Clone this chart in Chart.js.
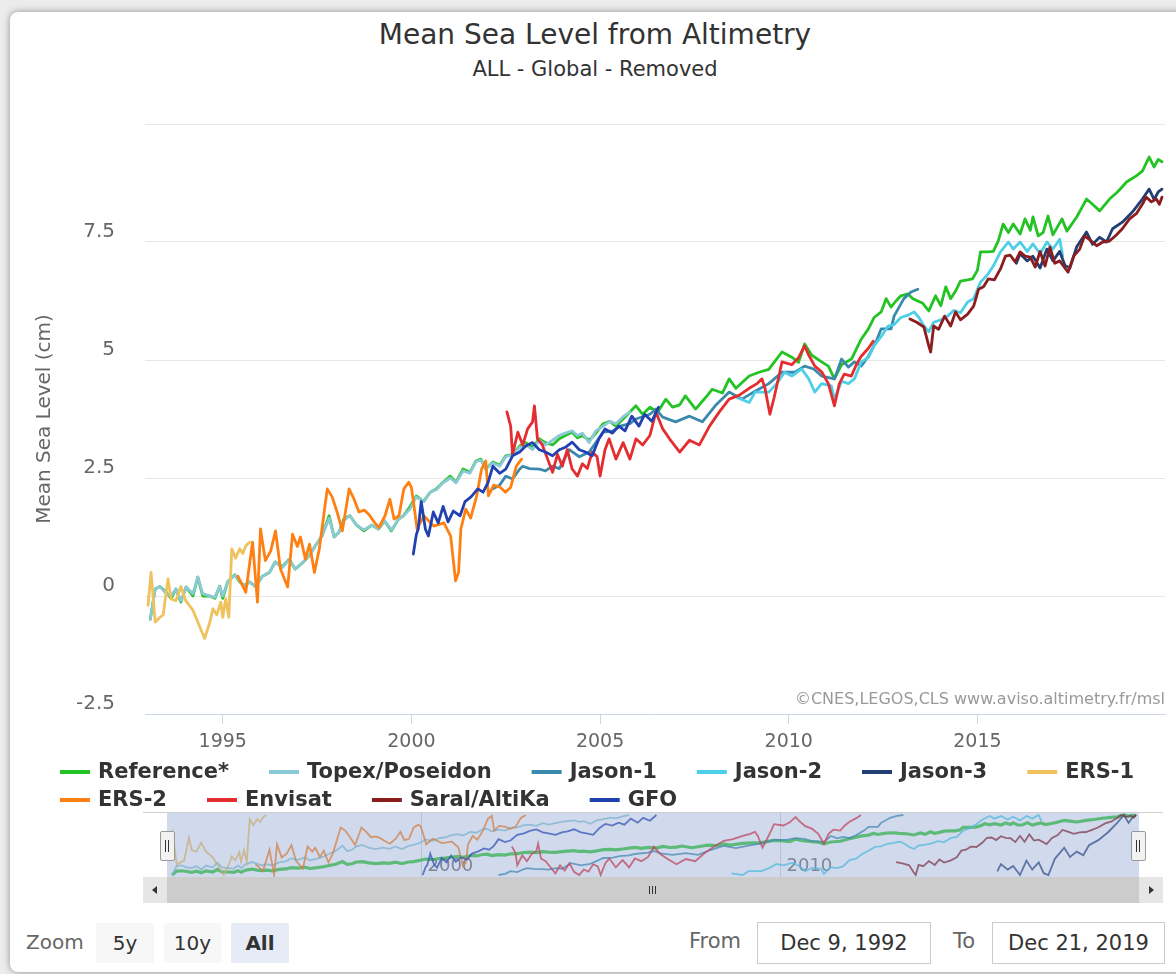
<!DOCTYPE html>
<html><head><meta charset="utf-8">
<script src="https://cdn.jsdelivr.net/npm/chart.js@4.4.1/dist/chart.umd.min.js"></script>
<style>
html,body{margin:0;padding:0;}
body{width:1176px;height:974px;background:#ececec;overflow:hidden;position:relative;font-family:"DejaVu Sans",sans-serif;}
#card{position:absolute;left:10px;top:12px;width:1220px;height:960px;background:#fff;border-radius:8px;box-shadow:0 0 7px rgba(0,0,0,0.4);}
#title{position:absolute;left:0;width:1190px;top:18px;text-align:center;font-size:28px;color:#333;}
#subtitle{position:absolute;left:0;width:1190px;top:57px;text-align:center;font-size:21px;color:#333;}
canvas{position:absolute;}
#mainC{left:0;top:0;}
#navC{left:167px;top:813px;}
.abs{position:absolute;}
#navTop{left:143px;top:812px;width:1020px;height:1px;background:#cfcfcf;}
.handle{top:831px;width:13px;height:28px;background:#f2f2f2;border:1px solid #999;border-radius:2px;}
.handle i{position:absolute;top:8px;width:1px;height:12px;background:#333;}
#scroll{left:143px;top:877px;width:1020px;height:26px;background:#f2f2f2;}
#bar{left:24px;top:0;width:972px;height:26px;background:#cccccc;}
.sbtn{top:0;width:24px;height:26px;background:#e6e6e6;}
.grip{top:9px;width:1px;height:8px;background:#333;}
.lbl{font-size:20px;color:#666;}
.btn{top:923px;height:40px;line-height:40px;text-align:center;font-size:20px;color:#333;background:#f7f7f7;border-radius:2px;}
.inp{top:922px;height:40px;line-height:40px;text-align:center;font-size:21px;color:#333;border:1px solid #ccc;background:#fff;}
</style></head>
<body>
<div id="card"></div>
<div id="title">Mean Sea Level from Altimetry</div>
<div id="subtitle">ALL - Global - Removed</div>
<canvas id="mainC" width="1176" height="812"></canvas>
<div id="navTop" class="abs"></div>
<canvas id="navC" width="972" height="64"></canvas>
<div class="abs handle" style="left:160px;"><i style="left:4px"></i><i style="left:7px"></i></div>
<div class="abs handle" style="left:1131px;"><i style="left:4px"></i><i style="left:7px"></i></div>
<div id="scroll" class="abs">
  <div id="bar" class="abs">
    <div class="abs grip" style="left:482px"></div><div class="abs grip" style="left:485px"></div><div class="abs grip" style="left:488px"></div>
  </div>
  <div class="abs sbtn" style="left:0"><svg width="24" height="26"><path d="M14 9 L9 13 L14 17 Z" fill="#333"/></svg></div>
  <div class="abs sbtn" style="left:996px"><svg width="24" height="26"><path d="M10 9 L15 13 L10 17 Z" fill="#333"/></svg></div>
</div>
<div class="abs lbl" style="left:26px;top:930px;">Zoom</div>
<div class="abs btn" style="left:96px;width:58px;">5y</div>
<div class="abs btn" style="left:164px;width:57px;">10y</div>
<div class="abs btn" style="left:231px;width:58px;background:#e6ebf5;font-weight:bold;">All</div>
<div class="abs lbl" style="left:689px;top:929px;font-size:21px;">From</div>
<div class="abs inp" style="left:757px;width:172px;">Dec 9, 1992</div>
<div class="abs lbl" style="left:953px;top:929px;font-size:21px;">To</div>
<div class="abs inp" style="left:992px;width:171px;">Dec 21, 2019</div>
<script>
// ---------------- data (decimal year, cm) ----------------
const seriesNames = ['Reference*','Topex/Poseidon','Jason-1','Jason-2','Jason-3','ERS-1','ERS-2','Envisat','Saral/AltiKa','GFO'];
const seriesColors = ['#22c322','#8ac9d5','#3b8aae','#4dcfe8','#223e72','#efc25d','#ff8012','#e42d30','#8c1d1f','#2141b0'];

const reference = [[1993.08,-0.49],[1993.21,0.15],[1993.34,0.2],[1993.50,0.08],[1993.63,-0.05],[1993.76,0.15],[1993.89,-0.13],[1994.03,0.19],[1994.21,0.0],[1994.34,0.4],[1994.47,0.0],[1994.66,0.0],[1994.79,-0.05],[1994.92,0.21],[1995.00,-0.05],[1995.13,0.3],[1995.32,0.45],[1995.45,0.3],[1995.58,0.22],[1995.71,0.3],[1995.87,0.2],[1996.05,0.42],[1996.24,0.5],[1996.39,0.72],[1996.58,0.62],[1996.76,0.78],[1996.92,0.57],[1997.11,0.7],[1997.29,0.85],[1997.45,1.06],[1997.63,1.27],[1997.82,1.7],[1997.95,1.25],[1998.08,1.35],[1998.21,1.63],[1998.37,1.7],[1998.55,1.5],[1998.74,1.38],[1998.95,1.5],[1999.13,1.42],[1999.29,1.59],[1999.47,1.38],[1999.66,1.63],[1999.79,1.7],[1999.97,1.9],[2000.13,2.12],[2000.32,2.0],[2000.50,2.2],[2000.66,2.27],[2000.84,2.41],[2001.03,2.54],[2001.18,2.41],[2001.37,2.69],[2001.55,2.62],[2001.71,2.86],[2001.84,2.9],[2001.97,2.69],[2002.16,2.84],[2002.34,2.77],[2002.50,2.97],[2002.68,3.0],[2002.87,3.18],[2003.03,3.25],[2003.21,3.15],[2003.39,3.33],[2003.55,3.25],[2003.74,3.2],[2003.92,3.33],[2004.08,3.4],[2004.26,3.47],[2004.40,3.35],[2004.53,3.4],[2004.71,3.3],[2004.89,3.45],[2005.08,3.65],[2005.26,3.7],[2005.42,3.6],[2005.61,3.75],[2005.79,3.9],[2005.95,4.03],[2006.13,3.85],[2006.32,4.0],[2006.53,3.9],[2006.74,4.17],[2006.92,4.0],[2007.11,4.05],[2007.26,4.24],[2007.53,3.96],[2007.79,4.2],[2007.97,4.38],[2008.24,4.3],[2008.42,4.6],[2008.60,4.4],[2008.95,4.66],[2009.21,4.74],[2009.47,4.8],[2009.62,4.96],[2009.82,5.17],[2010.08,5.06],[2010.26,4.95],[2010.42,5.34],[2010.61,5.1],[2010.87,4.96],[2011.05,4.87],[2011.21,4.6],[2011.40,4.9],[2011.66,5.02],[2011.92,5.44],[2012.11,5.66],[2012.26,5.9],[2012.45,6.02],[2012.58,6.3],[2012.71,6.12],[2012.84,6.25],[2012.97,6.36],[2013.16,6.4],[2013.29,6.3],[2013.42,6.25],[2013.55,6.2],[2013.71,6.04],[2013.89,6.36],[2014.03,6.15],[2014.16,6.55],[2014.29,6.3],[2014.42,6.46],[2014.55,6.67],[2014.74,6.7],[2014.87,6.72],[2015.00,6.9],[2015.08,7.29],[2015.26,7.29],[2015.42,7.3],[2015.55,7.52],[2015.68,7.88],[2015.82,7.7],[2015.95,7.88],[2016.13,7.67],[2016.26,7.99],[2016.40,7.75],[2016.47,8.03],[2016.61,7.63],[2016.74,7.7],[2016.87,8.05],[2017.00,7.65],[2017.24,7.99],[2017.37,7.73],[2017.63,8.03],[2017.89,8.41],[2018.05,8.3],[2018.24,8.16],[2018.50,8.41],[2018.71,8.56],[2018.95,8.77],[2019.21,8.9],[2019.37,9.0],[2019.55,9.3],[2019.68,9.09],[2019.79,9.25],[2019.89,9.2]];

const topexPoseidon = [[1993.08,-0.5],[1993.21,0.15],[1993.34,0.2],[1993.50,0.05],[1993.63,0.0],[1993.76,0.15],[1993.89,-0.1],[1994.03,0.19],[1994.21,0.05],[1994.34,0.4],[1994.47,0.05],[1994.66,0.0],[1994.79,-0.03],[1994.92,0.2],[1995.00,0.0],[1995.13,0.3],[1995.32,0.45],[1995.45,0.32],[1995.58,0.2],[1995.71,0.3],[1995.87,0.2],[1996.05,0.42],[1996.24,0.5],[1996.39,0.72],[1996.58,0.6],[1996.76,0.78],[1996.92,0.57],[1997.11,0.7],[1997.29,0.85],[1997.45,1.06],[1997.63,1.27],[1997.82,1.65],[1997.95,1.25],[1998.08,1.35],[1998.21,1.6],[1998.37,1.7],[1998.55,1.5],[1998.74,1.4],[1998.95,1.5],[1999.13,1.42],[1999.29,1.59],[1999.47,1.4],[1999.66,1.63],[1999.79,1.7],[1999.97,1.85],[2000.13,2.1],[2000.32,2.0],[2000.50,2.2],[2000.66,2.25],[2000.84,2.4],[2001.03,2.5],[2001.18,2.4],[2001.37,2.65],[2001.55,2.6],[2001.71,2.85],[2001.84,2.88],[2001.97,2.7],[2002.16,2.82],[2002.34,2.75],[2002.50,2.95],[2002.68,3.0],[2002.87,3.15],[2003.03,3.2],[2003.21,3.1],[2003.39,3.3],[2003.55,3.2],[2003.74,3.3],[2003.92,3.4],[2004.08,3.45],[2004.26,3.5],[2004.40,3.4],[2004.53,3.45],[2004.71,3.25],[2004.89,3.5],[2005.08,3.6],[2005.26,3.7],[2005.42,3.65],[2005.61,3.8],[2005.79,3.9]];

const jason1 = [[2002.16,2.27],[2002.34,2.35],[2002.50,2.54],[2002.68,2.48],[2002.87,2.69],[2002.95,2.75],[2003.13,2.7],[2003.39,2.69],[2003.55,2.65],[2003.74,2.75],[2003.92,2.7],[2004.18,3.1],[2004.45,2.95],[2004.71,3.05],[2005.08,3.47],[2005.34,3.5],[2005.53,3.6],[2005.79,3.65],[2005.95,3.75],[2006.32,3.85],[2006.48,3.96],[2006.66,3.79],[2007.00,3.69],[2007.37,3.81],[2007.71,3.69],[2008.05,4.03],[2008.42,4.32],[2008.76,4.17],[2009.11,4.34],[2009.47,4.5],[2009.82,4.74],[2010.16,4.74],[2010.42,4.87],[2010.66,4.81],[2010.87,4.66],[2011.21,4.6],[2011.40,5.02],[2011.58,4.85],[2011.74,4.96],[2011.92,4.87],[2012.11,5.08],[2012.32,5.4],[2012.45,5.66],[2012.71,5.66],[2012.79,5.93],[2013.05,6.3],[2013.24,6.44],[2013.42,6.5]];

const jason2 = [[2008.64,4.2],[2008.95,4.1],[2009.11,4.32],[2009.47,4.32],[2009.68,4.5],[2009.89,4.74],[2010.08,4.66],[2010.34,4.81],[2010.53,4.6],[2010.69,4.32],[2010.87,4.5],[2011.13,4.45],[2011.21,4.17],[2011.40,4.55],[2011.58,4.5],[2011.74,4.6],[2011.92,4.96],[2012.11,5.05],[2012.26,5.3],[2012.45,5.5],[2012.63,5.72],[2012.79,5.75],[2012.97,5.9],[2013.16,5.95],[2013.32,6.02],[2013.45,5.9],[2013.58,5.72],[2013.71,5.6],[2013.84,5.8],[2014.03,5.85],[2014.21,5.93],[2014.37,6.05],[2014.55,6.0],[2014.74,6.23],[2014.90,6.3],[2015.08,6.65],[2015.26,6.8],[2015.42,6.99],[2015.61,7.29],[2015.82,7.5],[2015.95,7.35],[2016.13,7.5],[2016.32,7.3],[2016.47,7.46],[2016.66,7.25],[2016.84,7.5],[2017.00,7.35],[2017.18,7.56],[2017.26,7.2]];

const jason3 = [[2016.03,7.05],[2016.13,7.25],[2016.32,7.1],[2016.47,7.2],[2016.66,6.95],[2016.84,7.35],[2017.00,7.1],[2017.18,7.3],[2017.32,7.0],[2017.45,6.95],[2017.63,7.4],[2017.89,7.71],[2018.05,7.45],[2018.24,7.6],[2018.42,7.5],[2018.58,7.78],[2018.84,7.92],[2019.11,8.14],[2019.37,8.41],[2019.55,8.62],[2019.68,8.4],[2019.79,8.56],[2019.89,8.62]];

const ers1 = [[1993.02,-0.2],[1993.10,0.5],[1993.21,-0.55],[1993.34,-0.45],[1993.42,-0.4],[1993.55,0.36],[1993.63,-0.06],[1993.76,-0.1],[1993.89,0.2],[1994.02,-0.1],[1994.21,-0.3],[1994.52,-0.9],[1994.66,-0.55],[1994.74,-0.27],[1994.84,-0.4],[1994.95,-0.13],[1995.00,-0.45],[1995.08,-0.06],[1995.16,-0.45],[1995.24,1.0],[1995.34,0.8],[1995.45,1.0],[1995.53,0.9],[1995.61,1.06],[1995.71,1.14]];

const ers2 = [[1995.40,0.42],[1995.61,0.08],[1995.79,1.14],[1995.92,-0.13],[1996.00,1.42],[1996.13,0.75],[1996.27,0.95],[1996.40,1.38],[1996.53,0.57],[1996.72,0.19],[1996.85,1.31],[1996.98,1.05],[1997.06,1.25],[1997.19,0.78],[1997.30,1.1],[1997.43,0.5],[1997.56,1.0],[1997.77,2.27],[1997.90,2.1],[1998.03,1.78],[1998.17,1.38],[1998.35,2.27],[1998.48,2.05],[1998.61,1.78],[1998.75,1.82],[1998.88,1.72],[1999.01,1.57],[1999.14,1.45],[1999.30,1.7],[1999.43,2.05],[1999.54,1.63],[1999.67,1.7],[1999.80,2.27],[1999.93,2.41],[2000.00,2.3],[2000.07,1.9],[2000.15,1.42],[2000.33,1.7],[2000.59,1.48],[2000.86,1.55],[2001.04,1.27],[2001.17,0.32],[2001.25,0.5],[2001.31,1.42],[2001.44,1.84],[2001.57,1.65],[2001.73,2.12],[2001.86,2.69],[2001.97,2.86],[2002.04,2.12],[2002.18,2.35],[2002.36,2.3],[2002.49,2.2],[2002.63,2.3],[2002.78,2.75],[2002.92,2.9]];

const envisat = [[2002.53,3.9],[2002.63,3.6],[2002.68,3.0],[2002.82,3.47],[2002.95,3.2],[2003.08,3.54],[2003.21,3.69],[2003.26,4.03],[2003.34,3.33],[2003.47,3.2],[2003.61,2.9],[2003.74,2.62],[2003.87,3.0],[2004.00,2.75],[2004.13,3.1],[2004.26,2.69],[2004.40,2.54],[2004.53,2.8],[2004.66,2.7],[2004.79,3.05],[2004.92,2.95],[2005.00,2.54],[2005.13,3.1],[2005.24,3.33],[2005.42,2.9],[2005.61,3.25],[2005.79,2.9],[2005.95,3.33],[2006.13,3.2],[2006.32,3.4],[2006.48,3.9],[2006.66,3.54],[2006.84,3.33],[2007.11,3.05],[2007.37,3.3],[2007.63,3.2],[2007.90,3.6],[2008.16,3.9],[2008.42,4.17],[2008.68,4.25],[2008.95,4.4],[2009.16,4.5],[2009.29,4.6],[2009.37,4.4],[2009.50,3.85],[2009.61,4.2],[2009.74,4.66],[2009.82,4.96],[2010.08,4.9],[2010.26,5.05],[2010.42,5.3],[2010.53,5.1],[2010.69,4.87],[2010.87,4.75],[2011.05,4.5],[2011.21,4.03],[2011.34,4.5],[2011.47,4.7],[2011.66,4.66],[2011.79,4.9],[2011.92,5.08],[2012.11,5.25],[2012.24,5.4]];

const saralAltiKa = [[2013.21,5.87],[2013.39,5.8],[2013.58,5.7],[2013.71,5.3],[2013.76,5.17],[2013.84,5.72],[2013.97,5.65],[2014.13,5.93],[2014.29,5.72],[2014.42,6.02],[2014.55,5.85],[2014.74,5.97],[2014.90,6.14],[2015.03,6.5],[2015.16,6.55],[2015.29,6.72],[2015.45,6.7],[2015.61,6.93],[2015.74,7.2],[2015.87,7.22],[2016.00,7.08],[2016.13,7.29],[2016.26,7.2],[2016.40,7.18],[2016.53,6.97],[2016.66,7.3],[2016.79,6.99],[2016.92,7.39],[2017.05,7.05],[2017.18,7.1],[2017.40,6.86],[2017.55,7.2],[2017.71,7.35],[2017.84,7.63],[2017.97,7.55],[2018.16,7.42],[2018.32,7.5],[2018.50,7.52],[2018.68,7.65],[2018.84,7.78],[2019.03,7.99],[2019.21,8.1],[2019.37,8.3],[2019.47,8.45],[2019.61,8.35],[2019.74,8.41],[2019.82,8.3],[2019.89,8.45]];

const gfo = [[2000.05,0.89],[2000.13,1.3],[2000.18,1.42],[2000.26,2.0],[2000.37,1.42],[2000.45,1.27],[2000.58,1.78],[2000.71,1.55],[2000.84,1.9],[2000.97,1.57],[2001.11,1.8],[2001.29,1.7],[2001.42,2.0],[2001.58,2.1],[2001.76,2.27],[2001.90,2.2],[2002.03,2.4],[2002.16,2.75],[2002.34,2.6],[2002.50,2.69],[2002.68,2.97],[2002.87,3.05],[2003.03,3.18],[2003.21,3.25],[2003.39,3.1],[2003.55,3.05],[2003.74,2.97],[2003.92,3.1],[2004.08,3.15],[2004.26,3.26],[2004.45,3.1],[2004.61,3.05],[2004.79,2.97],[2004.97,3.33],[2005.13,3.54],[2005.32,3.45],[2005.50,3.6],[2005.66,3.5],[2005.84,3.81],[2006.03,3.6],[2006.18,3.85],[2006.37,3.7],[2006.55,4.0]];

const seriesData = [reference, topexPoseidon, jason1, jason2, jason3, ers1, ers2, envisat, saralAltiKa, gfo];

const xTickYears = [1995, 2000, 2005, 2010, 2015];
const yTickValues = [-2.5, 0, 2.5, 5, 7.5, 10];
const navTickYears = [2000, 2010];
const rangeStart = 1992.94, rangeEnd = 2019.97;
const creditText = '©CNES,LEGOS,CLS www.aviso.altimetry.fr/msl';

// ---------------- main chart ----------------
const F = '"DejaVu Sans", sans-serif';
const toXY = arr => arr.map(p => ({x: p[0], y: p[1]}));

const hcLegend = {
  id: 'hcLegend',
  afterDraw(chart) {
    const ctx = chart.ctx;
    ctx.save();
    // credits
    ctx.font = '16px ' + F;
    ctx.fillStyle = '#999';
    ctx.textAlign = 'right';
    ctx.textBaseline = 'middle';
    ctx.fillText(creditText, chart.chartArea.right, chart.chartArea.bottom - 14);
    // legend
    ctx.font = 'bold 21px ' + F;
    ctx.textAlign = 'left';
    const symW = 30, gap = 8, dist = 40, startX = 60, maxX = 1160;
    let x = startX, row = 0;
    chart.data.datasets.forEach(ds => {
      const w = symW + gap + ctx.measureText(ds.label).width;
      if (x + w > maxX) { row++; x = startX; }
      const y = 772 + row * 28;
      ctx.fillStyle = ds.borderColor;
      ctx.fillRect(x, y - 2, symW, 4);
      ctx.fillStyle = '#333';
      ctx.fillText(ds.label, x + symW + gap, y + 1);
      x += w + dist;
    });
    ctx.restore();
  }
};

new Chart(document.getElementById('mainC'), {
  type: 'line',
  data: {
    datasets: seriesData.map((arr, i) => ({
      label: seriesNames[i],
      data: toXY(arr),
      borderColor: seriesColors[i],
      backgroundColor: seriesColors[i],
      borderWidth: 2.8,
      borderJoinStyle: 'round',
      borderCapStyle: 'round',
      pointRadius: 0,
      tension: 0,
      fill: false,
      order: seriesData.length - i
    }))
  },
  options: {
    responsive: false,
    animation: false,
    layout: {padding: {left: 0, right: 11, top: 124, bottom: 58}},
    plugins: {legend: {display: false}, tooltip: {enabled: false}},
    scales: {
      x: {
        type: 'linear', min: rangeStart, max: rangeEnd,
        afterBuildTicks: s => { s.ticks = xTickYears.map(v => ({value: v})); },
        afterFit: s => { s.height = 40; },
        grid: {drawOnChartArea: false, drawTicks: true, tickLength: 10, color: '#ccd6eb'},
        border: {display: true, color: '#ccd6eb', width: 1},
        ticks: {callback: v => String(v), font: {family: F, size: 19}, color: '#666', padding: 7, maxRotation: 0, autoSkip: false}
      },
      y: {
        type: 'linear', min: -2.5, max: 10,
        afterBuildTicks: s => { s.ticks = yTickValues.map(v => ({value: v})); },
        afterFit: s => { s.width = 145; },
        grid: {color: c => (c.tick && c.tick.value === -2.5) ? 'rgba(0,0,0,0)' : '#e6e6e6', drawTicks: false},
        border: {display: false},
        ticks: {callback: v => v === 10 ? '' : String(v), font: {family: F, size: 20}, color: '#666', padding: 30, labelOffset: -10},
        title: {display: true, text: 'Mean Sea Level (cm)', font: {family: F, size: 20}, color: '#666', padding: {top: 33, bottom: 0}}
      }
    }
  },
  plugins: [hcLegend]
});

// ---------------- navigator ----------------
const navScales = {x: {type: 'linear', display: false, min: rangeStart, max: rangeEnd}};
seriesData.forEach((arr, i) => {
  const vals = arr.map(p => p[1]);
  navScales['y' + i] = {type: 'linear', display: false, min: Math.min(...vals), max: Math.max(...vals)};
});
const navPlugin = {
  id: 'navBg',
  beforeDatasetsDraw(chart) {
    const {ctx, scales} = chart;
    ctx.save();
    ctx.fillStyle = '#ffffff';
    ctx.fillRect(0, 0, chart.width, chart.height);
    ctx.strokeStyle = '#dddddd';
    ctx.lineWidth = 1;
    ctx.font = '18px ' + F;
    ctx.fillStyle = '#888';
    ctx.textBaseline = 'alphabetic';
    navTickYears.forEach(v => {
      const px = Math.round(scales.x.getPixelForValue(v)) + 0.5;
      ctx.beginPath(); ctx.moveTo(px, 0); ctx.lineTo(px, chart.height); ctx.stroke();
      ctx.fillText(String(v), px + 6, chart.height - 6);
    });
    ctx.restore();
  },
  afterDatasetsDraw(chart) {
    const ctx = chart.ctx;
    ctx.save();
    ctx.fillStyle = 'rgba(102,133,194,0.3)';
    ctx.fillRect(0, 0, chart.width, chart.height);
    ctx.restore();
  }
};
new Chart(document.getElementById('navC'), {
  type: 'line',
  data: {
    datasets: seriesData.map((arr, i) => ({
      data: toXY(arr),
      yAxisID: 'y' + i,
      borderColor: seriesColors[i] + 'c0',
      borderWidth: i === 0 ? 3.2 : 1.8,
      pointRadius: 0,
      tension: 0,
      fill: false,
      clip: 2,
      order: seriesData.length - i
    }))
  },
  options: {
    responsive: false,
    animation: false,
    layout: {padding: {top: 2, bottom: 2, left: 0, right: 0}},
    plugins: {legend: {display: false}, tooltip: {enabled: false}},
    scales: navScales
  },
  plugins: [navPlugin]
});
</script>
</body></html>
